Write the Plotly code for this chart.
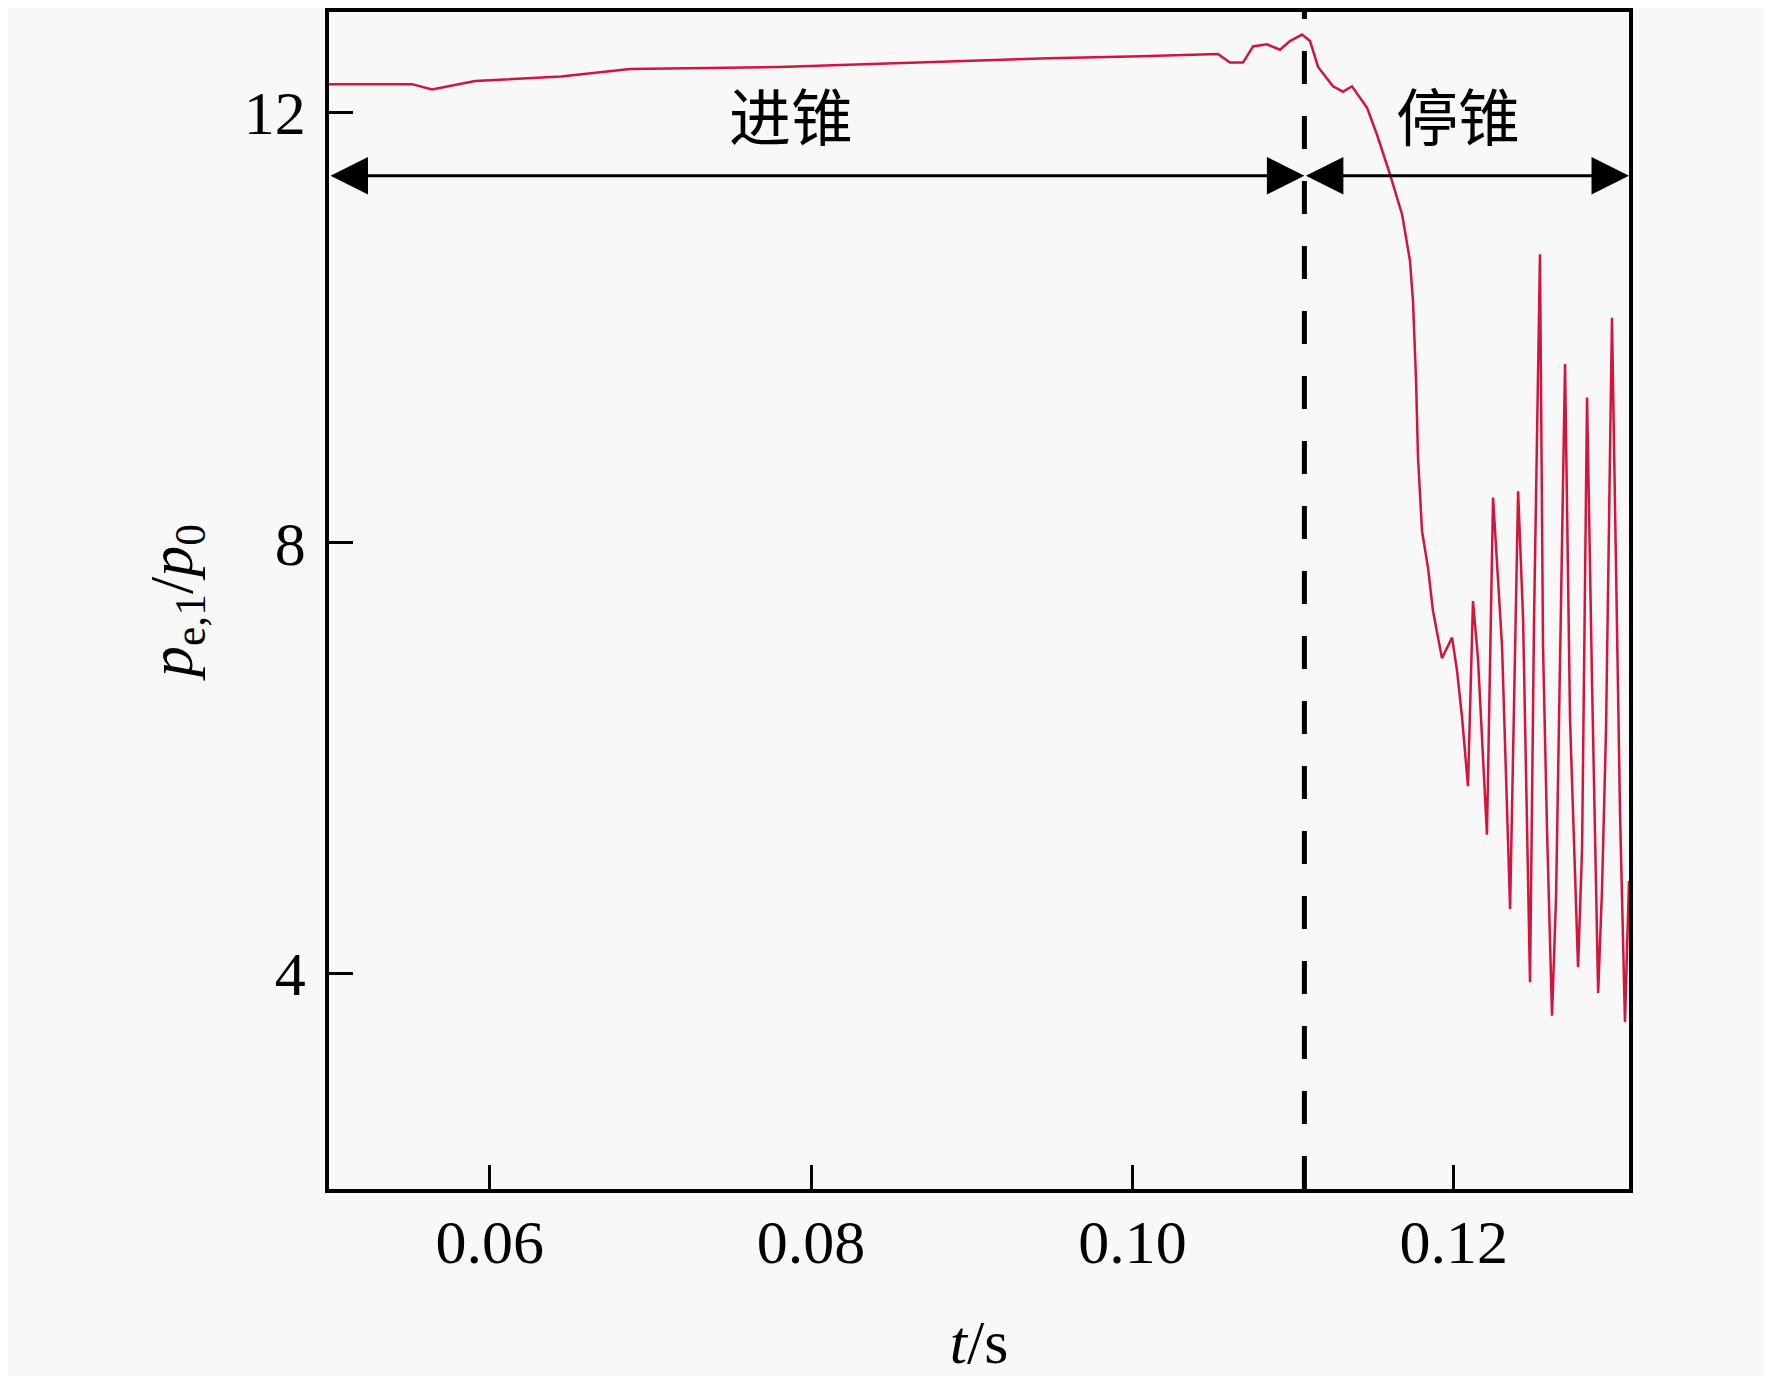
import plotly.graph_objects as go

# curve
t = [0.0500, 0.05517, 0.05641, 0.05909, 0.06444, 0.06873, 0.07800, 0.08410, 0.08945, 0.09481,
     0.10053, 0.10532, 0.10607, 0.10688, 0.10750, 0.10837, 0.10918, 0.10980, 0.11055, 0.11105,
     0.11155, 0.11248, 0.11310, 0.11366, 0.11460, 0.11522, 0.11603, 0.11678, 0.11727, 0.11746,
     0.11765, 0.11777, 0.11802, 0.11839, 0.11870, 0.11926, 0.11989, 0.12020, 0.12051, 0.12088,
     0.12119, 0.12150, 0.12206, 0.12244, 0.12300, 0.12350, 0.12400, 0.12431, 0.12474, 0.12499,
     0.12536, 0.12555, 0.12580, 0.12611, 0.12636, 0.12692, 0.12723, 0.12773, 0.12798, 0.12829,
     0.12860, 0.12898, 0.12922, 0.12947, 0.12984, 0.13015, 0.13034, 0.13065, 0.13090]
pe = [12.26, 12.26, 12.21, 12.29, 12.33, 12.40, 12.42, 12.45, 12.48, 12.50,
      12.52, 12.54, 12.46, 12.46, 12.61, 12.63, 12.58, 12.66, 12.72, 12.66,
      12.42, 12.24, 12.19, 12.24, 12.04, 11.79, 11.42, 11.05, 10.62, 10.24,
      9.50, 8.79, 8.11, 7.77, 7.37, 6.93, 7.12, 6.81, 6.38, 5.74,
      7.46, 6.93, 5.29, 8.42, 7.04, 4.60, 8.48, 7.29, 3.92, 7.28,
      10.68, 7.04, 5.33, 3.61, 4.71, 9.66, 6.36, 4.06, 5.16, 9.35,
      6.70, 3.82, 4.78, 6.26, 10.09, 7.22, 5.50, 3.55, 4.86]

t_stop = 0.1107      # 停锥时刻
t_min, t_max = 0.05, 0.1309
y_arrow = 11.41
x_ticks = [0.06, 0.08, 0.10, 0.12]
x_labels = ["0.06", "0.08", "0.10", "0.12"]
y_ticks = [4, 8, 12]
phase_names = ["进锥", "停锥"]
phase_pos = [0.07875, 0.12026]

bg = "#f8f8f8"
serif = "Liberation Serif"
cjk = "Noto Sans CJK SC"

fig = go.Figure()
fig.add_trace(go.Scatter(x=t, y=pe, mode="lines",
                         line=dict(color="#d3143c", width=2.5), showlegend=False))

# dashed line at the stop moment
fig.add_shape(type="line", xref="x", yref="paper", x0=t_stop, x1=t_stop, y0=0, y1=1.003,
              line=dict(color="black", width=5, dash="33px,32px"))

# double arrows
for a, b in [(t_min, t_stop), (t_stop, t_max)]:
    fig.add_annotation(x=b, y=y_arrow, ax=a, ay=y_arrow, axref="x", ayref="y", text="",
                       showarrow=True, arrowside="end+start", arrowhead=2, startarrowhead=2,
                       arrowsize=2.5, startarrowsize=2.5, arrowwidth=3, arrowcolor="black")

for name, xp in zip(phase_names, phase_pos):
    fig.add_annotation(x=xp, y=11.98, text=name, showarrow=False,
                       font=dict(family=cjk, size=62, color="black"))

fig.update_xaxes(range=[t_min, t_max], tickvals=x_ticks, ticktext=x_labels,
                 ticks="inside", ticklen=24, tickwidth=3, tickcolor="black",
                 showline=True, linecolor="black", linewidth=3.5, mirror=True,
                 showgrid=False, zeroline=False, ticklabelstandoff=-4,
                 tickfont=dict(family=serif, size=62, color="black"),
                 title=dict(text="<i>t</i>/s", standoff=55,
                            font=dict(family=serif, size=62, color="black")))
fig.update_yaxes(range=[2, 12.93], tickvals=y_ticks,
                 ticks="inside", ticklen=24, tickwidth=3, tickcolor="black",
                 showline=True, linecolor="black", linewidth=3.5, mirror=True,
                 showgrid=False, zeroline=False, ticklabelstandoff=7,
                 tickfont=dict(family=serif, size=62, color="black"),
                 title=dict(text="<i>p</i><sub>e,1</sub>/<i>p</i><sub>0</sub>", standoff=32,
                            font=dict(family=serif, size=62, color="black")))

fig.update_layout(width=1764, height=1368, paper_bgcolor=bg, plot_bgcolor=bg,
                  margin=dict(l=321, r=143, t=0, b=187))

fig.write_html("out.html")
